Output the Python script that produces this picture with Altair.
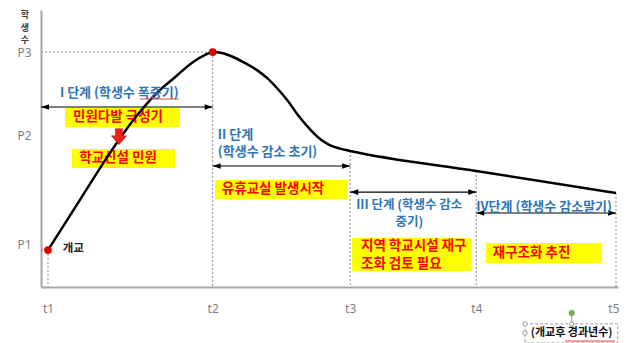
import altair as alt
import pandas as pd

# ---------------- data ----------------
t_labels = ["t1", "t2", "t3", "t4", "t5"]
t_values = [0.0, 29.0, 53.2, 75.4, 100.0]
students_at_t = [15.7, 100.0, 57.9, 49.4, 40.0]

p_labels = ["P1", "P2", "P3"]
p_values = [15.7, 64.3, 100.0]

curve_t = [0.0, 5.6, 10.9, 15.3, 18.8, 22.4, 25.5, 27.6, 29.0, 30.6, 32.6, 34.7,
           36.8, 38.6, 40.3, 42.1, 44.0, 46.1, 47.9, 49.6, 51.4, 53.2, 75.4, 100.0]
curve_n = [15.7, 37.0, 57.0, 71.9, 81.7, 89.4, 95.7, 98.7, 100.0, 99.6, 97.9, 95.3,
           92.3, 88.9, 84.7, 79.6, 73.2, 67.2, 63.0, 60.4, 58.9, 57.9, 49.4, 40.0]

X_DOM = [-1.23, 100.35]
Y_DOM = [0.0, 117.9]

stage_names = ["I 단계 (학생수 폭증기)", "II 단계\n(학생수 감소 초기)",
               "III 단계 (학생수 감소\n중기)", "IV단계 (학생수 감소말기)"]
stage_from = [X_DOM[0], 29.0, 53.2, 75.4]
stage_to = [29.0, 53.2, 75.4, 100.0]
arrow_level = [76.6, 51.5, 40.4, 31.5]
stage_label_t = [2.1, 29.9, 63.6, 75.4]
stage_label_n = [82.6, 64.7, 35.1, 34.0]

note_texts = ["민원다발 극성기", "학교신설 민원", "유휴교실 발생시작",
              "지역 학교시설 재구\n조화 검토 필요", "재구조화 추진"]
note_x1 = [2.99, 4.23, 29.4, 53.5, 77.1]
note_x2 = [23.24, 22.36, 52.8, 74.6, 97.5]
note_y1 = [76.2, 58.7, 45.5, 20.9, 18.7]
note_y2 = [68.1, 50.6, 37.4, 6.8, 10.2]
note_text_t = [4.4, 5.5, 30.6, 55.1, 78.3]
note_text_n = [72.3, 54.9, 41.7, 17.4, 14.5]

y_title_chars = ["학", "생", "수"]
y_title_n = [115.7, 110.4, 105.1]

KR = "Noto Sans CJK KR"
BLUE = "#2E75B6"
RED = "#FF0000"
YELLOW = "#FFFF00"
GRAY = "#A6A6A6"


def lab_expr(values, labels):
    parts = [f"datum.value == {v} ? '{l}'" for v, l in zip(values, labels)]
    return " : ".join(parts) + " : ''"


xscale = alt.Scale(domain=X_DOM, nice=False, zero=False)
yscale = alt.Scale(domain=Y_DOM, nice=False, zero=False)

x_axis = alt.Axis(values=t_values, labelExpr=lab_expr(t_values, t_labels), title=None,
                  grid=False, ticks=False, tickSize=0, domainColor=GRAY, domainWidth=2,
                  labelColor="#7F7F7F", labelFont="Noto Sans", labelFontSize=12,
                  labelPadding=21, labelBaseline="middle", labelFlush=False,
                  labelAlign={"condition": {"test": "datum.value >= 100", "value": "right"},
                              "value": "center"},
                  labelOffset={"condition": {"test": "datum.value >= 100", "value": 3},
                               "value": 0},
                  labelOverlap=False)
y_axis = alt.Axis(values=p_values, labelExpr=lab_expr(p_values, p_labels), title=None,
                  grid=False, ticks=False, tickSize=0, domainColor=GRAY, domainWidth=2,
                  labelColor="#7F7F7F", labelFont="Noto Sans", labelFontSize=12,
                  labelPadding=10, labelBaseline="middle",
                  labelOffset={"condition": {"test": "datum.value < 20", "value": -6}, "value": 0},
                  labelFlush=False, labelOverlap=False)


def X(f):
    return alt.X(f, type="quantitative", scale=xscale, axis=x_axis)


def Y(f):
    return alt.Y(f, type="quantitative", scale=yscale, axis=y_axis)


# ---------------- layers ----------------
df_t = pd.DataFrame({"t": t_values, "n": students_at_t, "zero": [0.0] * 5})
vlines = alt.Chart(df_t).mark_rule(color="#8C8C8C", strokeDash=[2, 2], strokeWidth=1).encode(
    x=X("t"), y=Y("n"), y2="zero")

df_h = pd.DataFrame({"a": [X_DOM[0], X_DOM[0]], "b": [t_values[1], t_values[0]],
                     "n": [p_values[2], p_values[0]]})
hlines = alt.Chart(df_h).mark_rule(color="#8C8C8C", strokeDash=[2, 2], strokeWidth=1).encode(
    x=X("a"), x2="b", y=Y("n"))

df_notes = pd.DataFrame({"x1": note_x1, "x2": note_x2, "y1": note_y1, "y2": note_y2,
                         "tx": note_text_t, "ty": note_text_n, "txt": note_texts})
boxes = alt.Chart(df_notes).mark_rect(color=YELLOW).encode(
    x=X("x1"), x2="x2", y=Y("y1"), y2="y2")
note_txt = alt.Chart(df_notes).mark_text(
    align="left", baseline="middle", font=KR, fontWeight="bold", fontSize=13.5,
    color=RED, lineBreak="\n", lineHeight=17.5).encode(x=X("tx"), y=Y("ty"), text="txt")

df_curve = pd.DataFrame({"t": curve_t, "n": curve_n})
curve = alt.Chart(df_curve).mark_line(color="black", strokeWidth=2.5,
                                      interpolate="monotone").encode(x=X("t"), y=Y("n"))

df_dots = pd.DataFrame({"t": t_values[:2], "n": students_at_t[:2]})
dots = alt.Chart(df_dots).mark_circle(color="#E00000", size=60, opacity=1).encode(
    x=X("t"), y=Y("n"))

df_arr = pd.DataFrame({"a": stage_from, "b": stage_to, "lv": arrow_level})
arr_rule = alt.Chart(df_arr).mark_rule(color="black", strokeWidth=1.1).encode(
    x=X("a"), x2="b", y=Y("lv"))
head_r = alt.Chart(df_arr).mark_point(shape="M0,0L-1,-0.35L-1,0.35Z", filled=True, size=256,
                                      color="black", strokeWidth=0, opacity=1).encode(
    x=X("b"), y=Y("lv"))
head_l = alt.Chart(df_arr).mark_point(shape="M0,0L1,-0.35L1,0.35Z", filled=True, size=256,
                                      color="black", strokeWidth=0, opacity=1).encode(
    x=X("a"), y=Y("lv"))

left_idx = [0, 1, 3]
df_st_left = pd.DataFrame({"t": [stage_label_t[i] for i in left_idx],
                           "n": [stage_label_n[i] for i in left_idx],
                           "txt": [stage_names[i] for i in left_idx]})
st_left = alt.Chart(df_st_left).mark_text(
    align="left", baseline="middle", font=KR, fontWeight="bold", fontSize=13,
    color=BLUE, lineBreak="\n", lineHeight=17).encode(x=X("t"), y=Y("n"), text="txt")
df_st_c = pd.DataFrame({"t": [stage_label_t[2]], "n": [stage_label_n[2]], "txt": [stage_names[2]]})
st_center = alt.Chart(df_st_c).mark_text(
    align="center", baseline="middle", font=KR, fontWeight="bold", fontSize=12.5,
    color=BLUE, lineBreak="\n", lineHeight=17).encode(x=X("t"), y=Y("n"), text="txt")

# spell-check style red underlines
df_ul = pd.DataFrame({"a": [16.2, 91.0], "b": [23.0, 99.8], "n": [80.0, -23.0]})
underline = alt.Chart(df_ul).mark_rule(color="#E04040", strokeWidth=1).encode(
    x=X("a"), x2="b", y=Y("n"))

df_bigarrow = pd.DataFrame({"t": [12.5], "n": [64.0]})
big_arrow = alt.Chart(df_bigarrow).mark_point(
    shape="M-0.45,-1L0.45,-1L0.45,-0.1L0.95,-0.1L0,1L-0.95,-0.1L-0.45,-0.1Z",
    filled=True, size=256, color="#E8201A", stroke="#B01010", strokeWidth=0.5,
    opacity=1).encode(x=X("t"), y=Y("n"))

df_open = pd.DataFrame({"t": [2.6], "n": [16.2], "txt": ["개교"]})
open_txt = alt.Chart(df_open).mark_text(
    align="left", baseline="middle", font=KR, fontWeight="bold", fontSize=11.5,
    color="#222222").encode(x=X("t"), y=Y("n"), text="txt")

df_ytitle = pd.DataFrame({"t": [-4.05] * 3, "n": y_title_n, "txt": y_title_chars})
ytitle = alt.Chart(df_ytitle).mark_text(
    align="center", baseline="middle", font=KR, fontWeight="bold", fontSize=9,
    color="#404040").encode(x=X("t"), y=Y("n"), text="txt")

# x-axis caption with its selection frame
df_cap = pd.DataFrame({"t": [85.0], "n": [-19.6], "txt": ["(개교후 경과년수)"]})
cap_txt = alt.Chart(df_cap).mark_text(
    align="left", baseline="middle", font=KR, fontWeight="bold", fontSize=11,
    color="#111111").encode(x=X("t"), y=Y("n"), text="txt")
df_frame = pd.DataFrame({"a": [84.0], "b": [100.3], "c": [-15.7], "d": [-23.8]})
frame = alt.Chart(df_frame).mark_rect(fillOpacity=0, stroke="#9A9A9A", strokeDash=[3, 2],
                                      strokeWidth=1).encode(
    x=X("a"), x2="b", y=Y("c"), y2="d")
df_handles = pd.DataFrame({"t": [84.0, 92.2, 84.0], "n": [-15.7, -15.7, -19.6]})
handles = alt.Chart(df_handles).mark_point(shape="circle", filled=True, fill="white",
                                           stroke="#9A9A9A", strokeWidth=1, size=18,
                                           opacity=1).encode(x=X("t"), y=Y("n"))
df_rot = pd.DataFrame({"t": [92.2], "n": [-11.1], "m": [-15.7]})
rot_line = alt.Chart(df_rot).mark_rule(color="#9A9A9A", strokeWidth=1).encode(
    x=X("t"), y=Y("n"), y2="m")
rot_dot = alt.Chart(df_rot).mark_circle(color="#70AD47", size=36, opacity=1).encode(
    x=X("t"), y=Y("n"))

chart = alt.layer(
    vlines, hlines, boxes, note_txt, curve, dots, arr_rule, head_r, head_l,
    st_left, st_center, underline, big_arrow, open_txt, ytitle,
    frame, rot_line, handles, rot_dot, cap_txt
).properties(
    width=577, height=277,
    padding={"left": 33, "top": 2, "right": 1, "bottom": 56},
    autosize=alt.AutoSizeParams(type="none"),
    background="white",
).configure_view(stroke=None)

chart.save("out.html", embed_options={"renderer": "svg", "actions": False})
